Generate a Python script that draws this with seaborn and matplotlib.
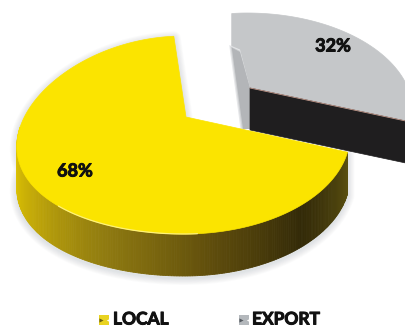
import numpy as np
import matplotlib
matplotlib.use("Agg")
import matplotlib.pyplot as plt
from matplotlib.patches import Polygon
import matplotlib.patheffects as pe
import seaborn as sns

# Sales split by market
categories = ["LOCAL", "EXPORT"]
shares = [68, 32]
top_colors = ["#fbe400", "#c5c7c9"]
legend_colors = ["#e9d321", "#b4b8bc"]
legend_notch_colors = ["#6b5f10", "#555a60"]
wall_stops = ["#ecd200", "#c4aa08", "#8f7a10", "#5e4c0c", "#332a08", "#5a5010"]
cut_wall_color = "#1f1e1f"

sns.set_theme(style="white")
plt.rcParams["font.family"] = ["Lato", "DejaVu Sans"]

fig = plt.figure(figsize=(4.05, 3.28), dpi=100)
ax = fig.add_axes([0, 0, 1, 1])
ax.set_xlim(0, 405)
ax.set_ylim(328, 0)
ax.axis("off")

RX, RY, DEPTH = 166.0, 99.0, 42.0
LOCAL_SWEEP_SCALE = 256.0 / (0.68 * 360.0)   # foreshortening of the tilted disc
EXPORT_SWEEP_SCALE = 102.0 / (0.32 * 360.0)
CENTER_LOCAL = (184.0, 135.0)
APEX_LOCAL = (186.0, 117.0)
CENTER_EXPORT = (247.0, 112.0)
APEX_EXPORT = (250.0, 88.0)
START_LOCAL = 94.0
START_EXPORT = 96.0
LEFT_TAPER = 0.12


def rim(center, t_deg):
    t = np.radians(t_deg)
    cos_t, sin_t = np.cos(t), np.sin(t)
    taper = np.where(cos_t < 0, 1 - LEFT_TAPER * sin_t, 1.0)
    return np.column_stack([center[0] + RX * cos_t * taper, center[1] - RY * sin_t])


def soft_shadow(points, offset=(0, 2), color="#9aa4ad", steps=8, reach=5, alpha=0.04):
    for i in range(steps):
        ax.add_patch(Polygon(points + np.array(offset), closed=True, fc="none", ec=color,
                             lw=reach * (steps - i) / steps * 2, alpha=alpha,
                             joinstyle="round", zorder=1))


local_sweep = shares[0] / 100 * 360 * LOCAL_SWEEP_SCALE
export_sweep = shares[1] / 100 * 360 * EXPORT_SWEEP_SCALE

local_t = np.linspace(START_LOCAL, START_LOCAL + local_sweep, 300)
export_t = np.linspace(START_EXPORT, START_EXPORT - export_sweep, 120)

local_top = np.vstack([[APEX_LOCAL], rim(CENTER_LOCAL, local_t)])
export_rim = rim(CENTER_EXPORT, export_t)

# Outer wall of the local slice, shaded along the rim
wall_t = local_t[local_t >= 175]
wall_palette = sns.blend_palette(wall_stops, n_colors=len(wall_t))
upper = rim(CENTER_LOCAL, wall_t)
lower = upper + np.array([0, DEPTH])

soft_shadow(np.vstack([local_top, lower[::-1]]))

for i in range(len(wall_t) - 1):
    strip = np.array([upper[i], upper[i + 1], lower[i + 1], lower[i]])
    ax.add_patch(Polygon(strip, closed=True, fc=wall_palette[i], ec=wall_palette[i], lw=0.6, zorder=2))

# Export slice: top face, cast shadow on its inner side and dark cut wall
apex_e = np.array(APEX_EXPORT)
cut_end = export_rim[-1]
first_rim = export_rim[0]
notch = first_rim + [0, 34]
inner = apex_e + [-10, -36]
export_top = np.vstack([[apex_e], [inner], [notch], export_rim])
ax.add_patch(Polygon(export_top, closed=True, fc=top_colors[1], ec=top_colors[1], lw=0.5, zorder=2))
for grow, tone in zip([2.5, 1.2, 0.0], ["#e6e7e9", "#cfd1d3", "#b3b5b8"]):
    band = [notch + [-grow, -grow], inner + [0, -grow], apex_e, apex_e + [0, 41], apex_e + [-7 - grow, 41]]
    ax.add_patch(Polygon(band, closed=True, fc=tone, ec="none", zorder=2.2))
ax.add_patch(Polygon([apex_e, cut_end, cut_end + [0, DEPTH], apex_e + [0, DEPTH]],
                     closed=True, fc=cut_wall_color, ec=cut_wall_color, lw=0.5, zorder=2.5))
ax.plot([apex_e[0], cut_end[0]], [apex_e[1], cut_end[1]], color="#c49a8c", lw=0.6, zorder=3)

# Local slice top face lies over the export wall
ax.add_patch(Polygon(local_top, closed=True, fc=top_colors[0], ec=top_colors[0], lw=0.5, zorder=4))
highlight = rim(CENTER_LOCAL, local_t[(local_t >= 225) & (local_t <= 275)])
ax.plot(highlight[:, 0], highlight[:, 1], color="#fff27a", lw=0.9, zorder=5)

heavy = [pe.withStroke(linewidth=0.7, foreground="#111111")]

# Percentage labels
ax.text(75, 171, f"{shares[0]}%", ha="center", va="center", fontsize=13, fontweight="bold",
        color="#111111", zorder=6, path_effects=heavy)
ax.text(333, 46, f"{shares[1]}%", ha="center", va="center", fontsize=13, fontweight="bold",
        color="#111111", zorder=6, path_effects=heavy)

# Legend row along the bottom edge
for label, color, notch_color, x_mark, x_text in zip(categories, legend_colors, legend_notch_colors,
                                                     [104, 244], [113, 252]):
    ax.scatter([x_mark], [319.5], marker="s", s=42, color=color, linewidths=0, zorder=6)
    ax.scatter([x_mark - 3], [319.5], marker=">", s=9, color=notch_color, linewidths=0, zorder=7)
    ax.scatter([x_mark + 3.5], [319.5], marker="<", s=6, color="white", linewidths=0, zorder=7)
    ax.text(x_text, 324.5, label, ha="left", va="baseline", fontsize=12.5, fontweight="bold",
            color="#111111", zorder=6, path_effects=heavy)

fig.savefig("out.png", dpi=100, facecolor="white")
